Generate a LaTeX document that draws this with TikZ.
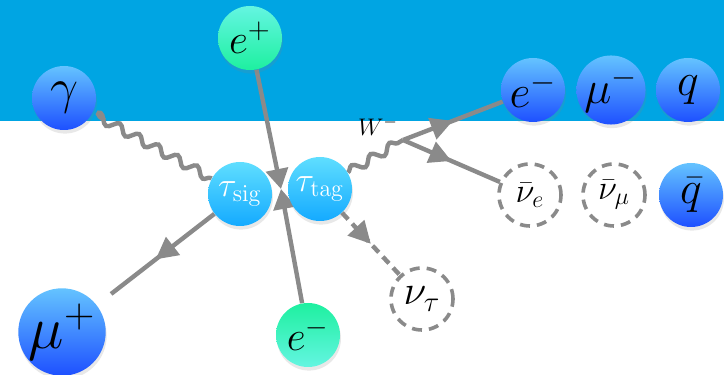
\RequirePackage{fix-cm}
\documentclass[tikz,border=0pt]{standalone}
\usetikzlibrary{arrows.meta,decorations.pathmorphing,decorations.markings,shadows}
\pgfdeclarelayer{band}
\pgfdeclarelayer{lines}
\pgfsetlayers{band,lines,main}
\definecolor{bandblue}{RGB}{0,165,227}
\definecolor{linegray}{RGB}{138,138,138}
\definecolor{balltop}{RGB}{100,195,255}
\definecolor{ballbot}{RGB}{30,80,255}
\definecolor{tautop}{RGB}{95,222,255}
\definecolor{taubot}{RGB}{20,170,255}
\definecolor{greenlt}{RGB}{100,245,225}
\definecolor{greendk}{RGB}{30,240,160}

\begin{document}
\begin{tikzpicture}[x=25pt, y=25pt,
  ball/.style={circle, minimum size=32pt, inner sep=0pt,
    drop shadow={shadow xshift=0.5pt, shadow yshift=-1.8pt, opacity=0.18}},
  blueball/.style={ball, top color=balltop, bottom color=ballbot},
  tauball/.style={ball, top color=tautop, bottom color=taubot, text=white, font=\LARGE},
  greenup/.style={ball, top color=greenlt, bottom color=greendk},
  greendown/.style={ball, top color=greendk, bottom color=greenlt},
  ghostball/.style={circle, minimum size=31pt, inner sep=0pt, fill=white,
    draw=linegray, line width=1.8pt, dash pattern=on 5pt off 3.5pt},
  fline/.style={draw=linegray, line width=2.2pt},
  fermion/.style={fline, postaction={decorate}, decoration={markings,
    mark=at position 0.5 with {\arrow[linegray]{Triangle[length=11pt,width=11pt]}}}},
  photon/.style={fline, decorate, decoration={snake, amplitude=2.2pt, segment length=11pt}}]

\begin{pgfonlayer}{band}
\fill[bandblue] (0,5.08) rectangle (14.48,7.5);
\end{pgfonlayer}
\useasboundingbox (0,0) rectangle (14.48,7.5);

% initial state
\node[blueball, font=\Huge] (gam) at (1.28,5.54) {$\gamma$};
\node[greenup, font=\huge] (ep) at (5.0,6.74) {$e^+$};
\node[greendown, font=\huge] (embot) at (6.16,0.8) {$e^-$};
\coordinate (vee) at (5.62,3.72);

% tau pair
\node[tauball] (tausig) at (4.8,3.62) {$\tau_{\mathrm{sig}}$};
\node[tauball] (tautag) at (6.4,3.72) {$\tau_{\mathrm{tag}}$};
\node[blueball, minimum size=39pt, font=\fontsize{30}{34}\selectfont] (mup) at (1.24,0.86) {$\mu^+$};
\node[ghostball, font=\huge] (nutau) at (8.44,1.52) {$\nu_\tau$};

% W decay
\coordinate (wv) at (8.06,4.7);
\node[font=\large] (wlab) at (7.56,4.98) {$W^-$};
\node[blueball, font=\fontsize{23}{27}\selectfont] (em) at (10.66,5.7) {$e^-$};
\node[blueball, font=\fontsize{23}{27}\selectfont] (mum) at (12.22,5.7) {$\mu^-$};
\node[blueball, font=\fontsize{23}{27}\selectfont] (q) at (13.76,5.7) {$q$};
\node[ghostball, font=\LARGE] (nuebar) at (10.6,3.6) {$\bar{\nu}_e$};
\node[ghostball, font=\LARGE] (numubar) at (12.28,3.6) {$\bar{\nu}_\mu$};
\node[blueball, font=\fontsize{23}{27}\selectfont] (qbar) at (13.82,3.6) {$\bar{q}$};

\begin{pgfonlayer}{lines}
\draw[photon, shorten <=7pt] (gam) -- (tausig);
\draw[fline, -{Triangle[length=10pt,width=11pt]}] (ep) -- (vee);
\draw[fline, -{Triangle[length=10pt,width=11pt]}] (embot) -- (vee);
\draw[fermion, shorten >=9pt] (tausig) -- (mup);
\draw[fermion, dash pattern=on 4.5pt off 3pt] (tautag) -- (nutau);
\draw[photon] (tautag) -- (wv);
\draw[fermion] (wv) -- (em);
\draw[fermion] (wv) -- (nuebar);
\end{pgfonlayer}
\end{tikzpicture}
\end{document}
